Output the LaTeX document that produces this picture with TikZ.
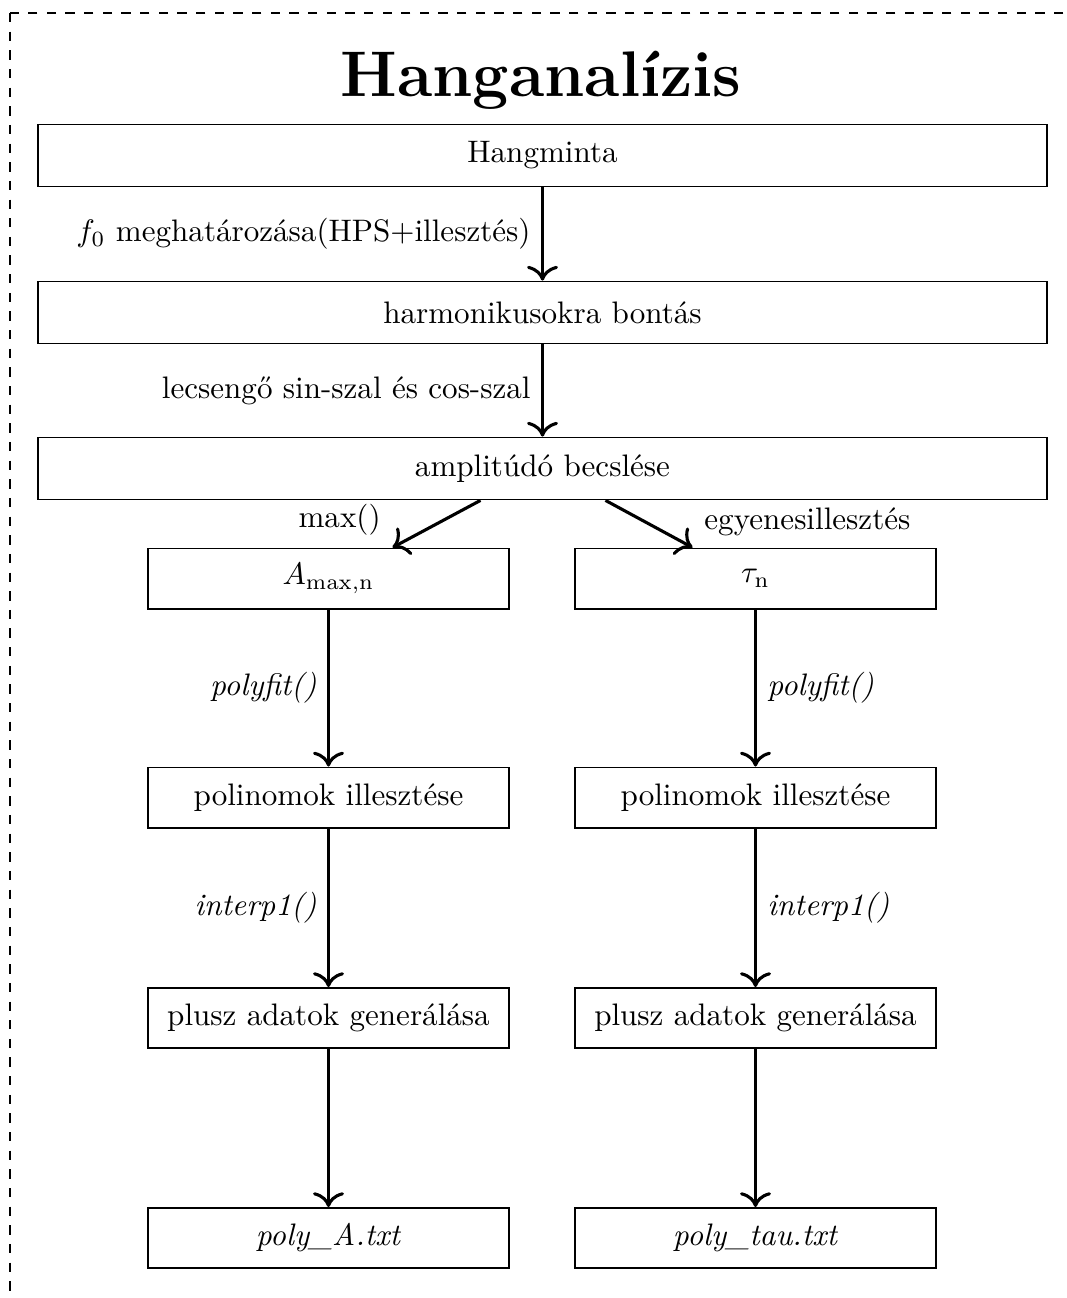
\documentclass[tikz,border=0pt]{standalone}
\usepackage{amsmath}
\usepackage{tikz}
\usetikzlibrary{arrows,arrows.meta}

\begin{document}
\begin{tikzpicture}[x=0.01131cm, y=-0.01131cm,
        widebox/.style={draw, semithick, minimum width=11.41cm, minimum height=0.7cm},
        smallbox/.style={draw, semithick, minimum width=4.09cm, minimum height=0.68cm},
        flow/.style={line width=1pt, -{To[scale=1.25]}}]
        \useasboundingbox (0,0) rectangle (1067,1298);
        \draw[dashed] (10,13) rectangle (1120,1360);

        \node (title) at (541,80) {\huge\bfseries Hanganalízis};

        \node[widebox] (hang) at (542.5,155.5) {Hangminta};
        \node[widebox] (harm) at (542.5,312.5) {harmonikusokra bontás};
        \node[widebox] (ampl) at (542.5,468.5) {amplitúdó becslése};

        \node[smallbox] (amax) at (328.5,578.5) {$A_{\mathrm{max,n}}$};
        \node[smallbox] (tau) at (755.5,578.5) {$\tau_{\mathrm{n}}$};
        \node[smallbox] (polA) at (328.5,797.5) {polinomok illesztése};
        \node[smallbox] (polT) at (755.5,797.5) {polinomok illesztése};
        \node[smallbox] (genA) at (328.5,1018) {plusz adatok generálása};
        \node[smallbox] (genT) at (755.5,1018) {plusz adatok generálása};
        \node[smallbox] (txtA) at (328.5,1238) {\textit{poly\_A.txt}};
        \node[smallbox] (txtT) at (755.5,1238) {\textit{poly\_tau.txt}};

        \draw[flow] (hang) -- (harm) node[midway, left] {$f_0$ meghatározása(HPS+illesztés)};
        \draw[flow] (harm) -- (ampl) node[midway, left] {lecsengő sin-szal és cos-szal};

        \draw[flow] ([xshift=-0.701cm]ampl.south) -- ([xshift=0.724cm]amax.north) node[above left] {max()};
        \draw[flow] ([xshift=0.712cm]ampl.south) -- ([xshift=-0.712cm]tau.north) node[above right] {egyenesillesztés};

        \draw[flow] (amax) -- (polA) node[midway, left] {\textit{polyfit()}};
        \draw[flow] (tau) -- (polT) node[midway, right] {\textit{polyfit()}};
        \draw[flow] (polA) -- (genA) node[midway, left] {\textit{interp1()}};
        \draw[flow] (polT) -- (genT) node[midway, right] {\textit{interp1()}};
        \draw[flow] (genA) -- (txtA);
        \draw[flow] (genT) -- (txtT);
    \end{tikzpicture}
\end{document}
